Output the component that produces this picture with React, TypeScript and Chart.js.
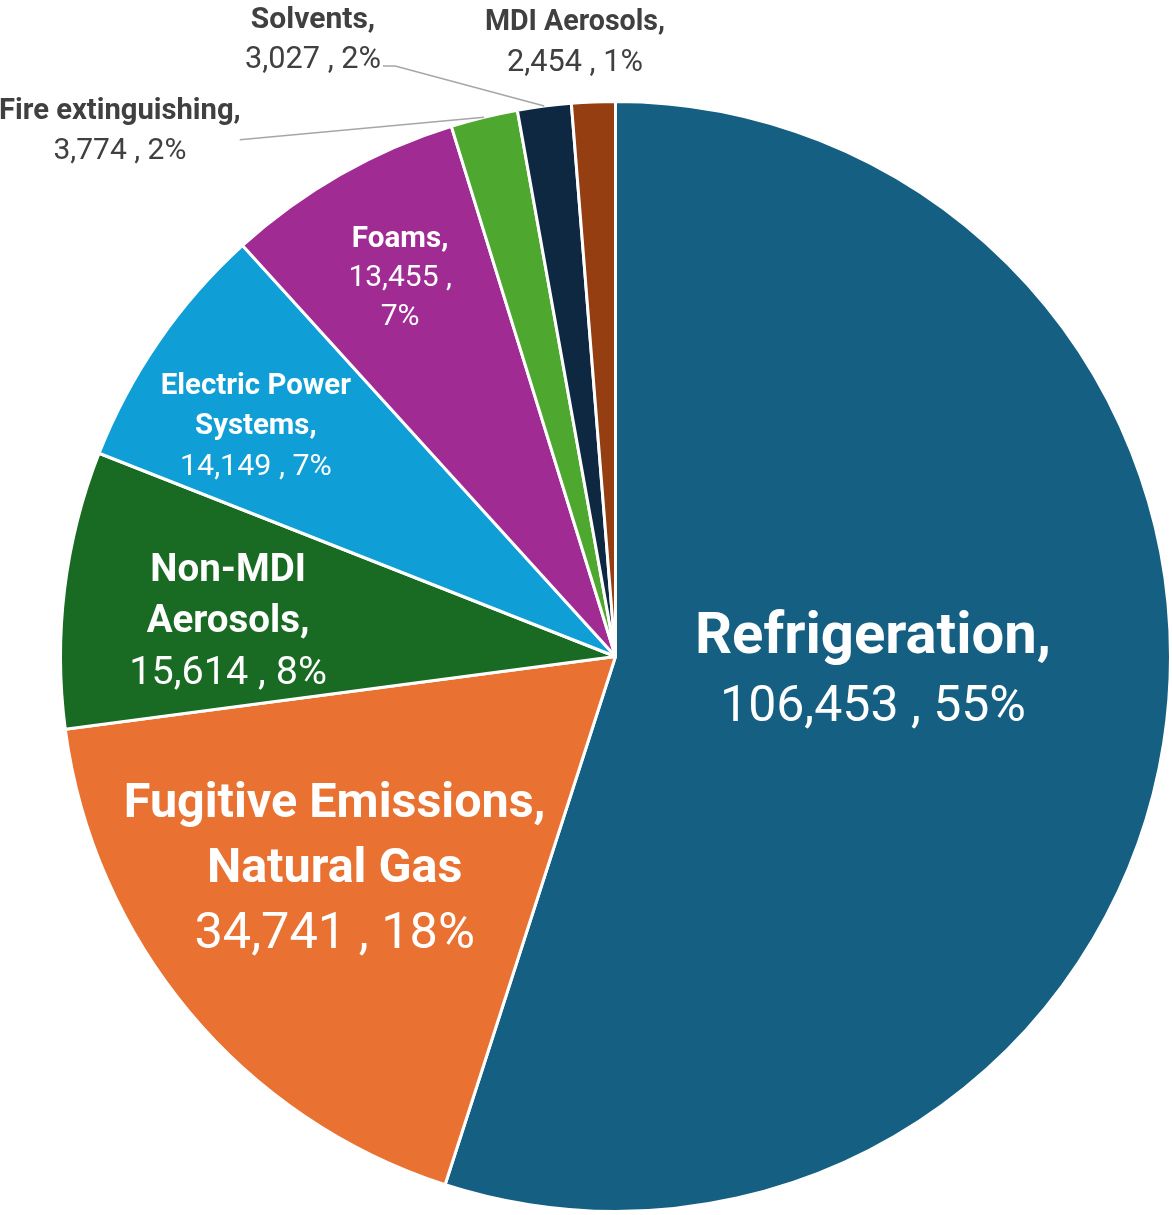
import React, { useEffect, useRef } from "react";
import { Chart, registerables } from "chart.js";

Chart.register(...registerables);

const categories = [
  "Refrigeration",
  "Fugitive Emissions, Natural Gas",
  "Non-MDI Aerosols",
  "Electric Power Systems",
  "Foams",
  "Fire extinguishing",
  "Solvents",
  "MDI Aerosols",
];
const values = [106453, 34741, 15614, 14149, 13455, 3774, 3027, 2454];
const colors = ["#156082", "#E97132", "#196B24", "#0F9ED5", "#A02B93", "#4EA72E", "#0E2841", "#943E12"];
const nameLines = [
  ["Refrigeration,"],
  ["Fugitive Emissions,", "Natural Gas"],
  ["Non-MDI", "Aerosols,"],
  ["Electric Power", "Systems,"],
  ["Foams,"],
  ["Fire extinguishing,"],
  ["Solvents,"],
  ["MDI Aerosols,"],
];
const splitValueLine = [false, false, false, false, true, false, false, false];

// label style: block centre (fraction of radius from pie centre), font sizes, line height
const labelFx = [0.464, -0.506, -0.698, -0.648, -0.388, -0.893, -0.545, -0.073];
const labelFy = [0.02, 0.376, -0.068, -0.419, -0.686, -0.952, -1.116, -1.111];
const nameSize = [58, 48.5, 38.5, 29.4, 29.6, 29.2, 30, 28.6];
const valueSize = [50, 50.5, 39.6, 30.4, 30, 30, 30.7, 30.7];
const lineHeight = [71, 65, 51, 40, 39, 40, 40, 40];
const textColor = ["#fff", "#fff", "#fff", "#fff", "#fff", "#404040", "#404040", "#404040"];
// leader line start points (fraction of radius)
const leaderStart: (number[][] | null)[] = [
  null, null, null, null, null,
  [[-0.677, -0.931]],
  [[-0.419, -1.064], [-0.397, -1.064]],
  null,
];

const FONT = "Roboto, 'Open Sans', sans-serif";

const total = values.reduce((a, b) => a + b, 0);

const labelPlugin = {
  id: "sliceLabels",
  afterDatasetsDraw(chart: any) {
    const ctx = chart.ctx as CanvasRenderingContext2D;
    const meta = chart.getDatasetMeta(0);
    meta.data.forEach((arc: any, i: number) => {
      const cx = arc.x;
      const cy = arc.y;
      const r = arc.outerRadius;
      const ls = leaderStart[i];
      if (ls) {
        const mid = (arc.startAngle + arc.endAngle) / 2;
        ctx.save();
        ctx.strokeStyle = "#A6A6A6";
        ctx.lineWidth = 1.5;
        ctx.beginPath();
        ls.forEach((p, k) => {
          const x = cx + p[0] * r;
          const y = cy + p[1] * r;
          if (k === 0) ctx.moveTo(x, y);
          else ctx.lineTo(x, y);
        });
        ctx.lineTo(cx + Math.cos(mid) * r, cy + Math.sin(mid) * r);
        ctx.stroke();
        ctx.restore();
      }
      const pct = Math.round((values[i] / total) * 100);
      const num = values[i].toLocaleString("en-US");
      const valLines = splitValueLine[i] ? [`${num} ,`, `${pct}%`] : [`${num} , ${pct}%`];
      const lines = [
        ...nameLines[i].map((t) => ({ t, bold: true })),
        ...valLines.map((t) => ({ t, bold: false })),
      ];
      const bx = cx + labelFx[i] * r;
      const by = cy + labelFy[i] * r;
      const n = lines.length;
      ctx.save();
      ctx.fillStyle = textColor[i];
      ctx.textAlign = "center";
      ctx.textBaseline = "alphabetic";
      lines.forEach((ln, k) => {
        const size = ln.bold ? nameSize[i] : valueSize[i];
        ctx.font = `${ln.bold ? "bold " : ""}${size}px ${FONT}`;
        const yc = by + (k - (n - 1) / 2) * lineHeight[i];
        ctx.fillText(ln.t, bx, yc + size * 0.355);
      });
      ctx.restore();
    });
  },
};

export default function App() {
  const ref = useRef<HTMLCanvasElement | null>(null);
  useEffect(() => {
    if (!ref.current) return;
    const chart = new Chart(ref.current, {
      type: "pie",
      data: {
        labels: categories,
        datasets: [
          {
            data: values,
            backgroundColor: colors,
            borderColor: "#ffffff",
            borderWidth: 3,
          },
        ],
      },
      options: {
        animation: false,
        responsive: true,
        maintainAspectRatio: false,
        layout: { padding: { left: 59, right: 0, top: 100, bottom: 2 } },
        plugins: {
          legend: { display: false },
          tooltip: { enabled: false },
        },
      },
      plugins: [labelPlugin],
    });
    return () => chart.destroy();
  }, []);
  return (
    <div style={{ position: "fixed", left: 0, top: 0, width: 1172, height: 1215, background: "#fff" }}>
      <canvas ref={ref} />
    </div>
  );
}
